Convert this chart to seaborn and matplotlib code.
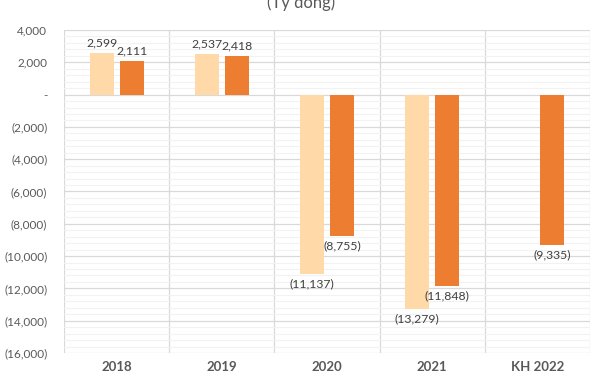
import numpy as np
import pandas as pd
import matplotlib
matplotlib.use("Agg")
import matplotlib.pyplot as plt
from matplotlib.ticker import MultipleLocator, FuncFormatter
import seaborn as sns

categories = ['2018', '2019', '2020', '2021', 'KH 2022']
series_1 = [2599, 2537, -11137, -13279, np.nan]
series_2 = [2111, 2418, -8755, -11848, -9335]
y_ticks = list(range(-16000, 4001, 2000))

LIGHT = '#FFDAA8'
DARK = '#ED7D31'
TEXT = '#595959'


def fmt_num(v):
    if v == 0:
        return '-'
    if v < 0:
        return '({:,.0f})'.format(-v)
    return '{:,.0f}'.format(v)


df = pd.DataFrame({
    'cat': categories * 2,
    'series': ['Series 1'] * len(categories) + ['Series 2'] * len(categories),
    'value': series_1 + series_2,
})

sns.set_theme(style='white')
plt.rcParams['font.family'] = ['Lato', 'DejaVu Sans']

fig = plt.figure(figsize=(6.03, 3.75), dpi=100)
ax = fig.add_axes([64 / 603, 1 - 353 / 375, (590 - 64) / 603, (353 - 30) / 375])

sns.barplot(data=df, x='cat', y='value', hue='series', order=categories,
            palette={'Series 1': LIGHT, 'Series 2': DARK},
            width=0.57, gap=0.2, saturation=1, linewidth=0,
            ax=ax, legend=False)

for cont in ax.containers:
    labels = ['' if np.isnan(v) else fmt_num(v) for v in cont.datavalues]
    ax.bar_label(cont, labels=labels, padding=3, fontsize=8.8, color='#404040')

ax.set_ylim(-16000, 4000)
ax.set_xlim(-0.5, len(categories) - 0.5)
ax.set_yticks(y_ticks)
ax.yaxis.set_major_formatter(FuncFormatter(lambda v, p: fmt_num(v)))
ax.yaxis.set_minor_locator(MultipleLocator(400))
ax.grid(axis='y', which='minor', color='#F2F2F2', linewidth=0.8, zorder=0)
ax.grid(axis='y', which='major', color='#D9D9D9', linewidth=0.9, zorder=0)
ax.set_axisbelow(True)
for xb in np.arange(-0.5, len(categories), 1.0):
    ax.axvline(xb, color='#D9D9D9', linewidth=0.9, zorder=0)

for s in ax.spines.values():
    s.set_visible(False)

ax.tick_params(axis='both', which='both', length=0)
ax.tick_params(axis='y', pad=12, labelsize=8.5, labelcolor=TEXT)
ax.tick_params(axis='x', pad=6, labelsize=9.5, labelcolor=TEXT)
for t in ax.get_xticklabels():
    t.set_fontweight('bold')
ax.set_xlabel('')
ax.set_ylabel('')

fig.text(0.5, 1 - 8 / 375, '(Tỷ đồng)', ha='center', va='baseline',
         fontsize=12, color=TEXT, family=['Lato', 'DejaVu Sans'])

fig.savefig('out.png', dpi=100)
